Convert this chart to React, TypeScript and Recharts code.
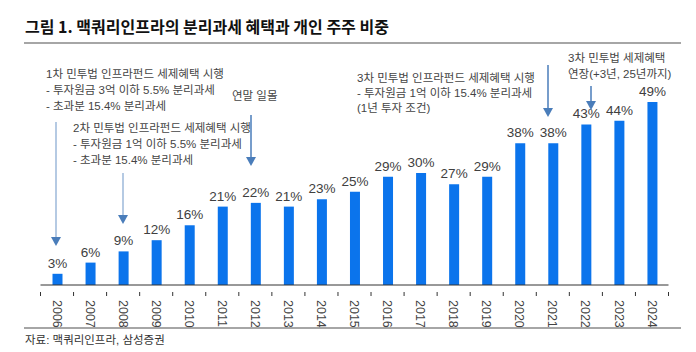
import React from 'react';
import { BarChart, Bar, XAxis, YAxis, LabelList } from 'recharts';

const years = ['2006', '2007', '2008', '2009', '2010', '2011', '2012', '2013', '2014', '2015', '2016', '2017', '2018', '2019', '2020', '2021', '2022', '2023', '2024'];
const retailShare = [3, 6, 9, 12, 16, 21, 22, 21, 23, 25, 29, 30, 27, 29, 38, 38, 43, 44, 49];

const data = years.map((y, i) => ({ year: y, share: retailShare[i] }));

const W = 696;
const H = 352;
const BAND = (668.5 - 40.5) / years.length;
const FONT = '"Liberation Sans", "Noto Sans CJK KR", sans-serif';
const ARROW_DARK = '#4A7DBA';
const ARROW_LIGHT = '#9DB8DA';

function YearTick(props: any) {
  const { x, y, payload, index } = props;
  const last = index === years.length - 1;
  return (
    <g transform={`translate(${x},${y})`}>
      <line x1={-BAND / 2} x2={-BAND / 2} y1={-1} y2={3} stroke="#333" strokeWidth={1} />
      {last && <line x1={BAND / 2} x2={BAND / 2} y1={-1} y2={3} stroke="#333" strokeWidth={1} />}
      <text transform="rotate(90)" x={7} y={0} dy="0.35em" textAnchor="start" fontSize={12.5} fill="#444" fontFamily={FONT}>
        {payload.value}
      </text>
    </g>
  );
}

function Arrow({ x, y1, y2, color, head = ARROW_DARK }: { x: number; y1: number; y2: number; color: string; head?: string }) {
  return (
    <g>
      <line x1={x} x2={x} y1={y1} y2={y2 - 8} stroke={color} strokeWidth={1.5} />
      <path d={`M${x - 5},${y2 - 9} L${x + 5},${y2 - 9} L${x},${y2} Z`} fill={head} />
    </g>
  );
}

function Note({ x, y, lines, step = 16 }: { x: number; y: number; lines: string[]; step?: number }) {
  return (
    <text x={x} y={y} fontSize={11.5} fill="#444" fontFamily={FONT}>
      {lines.map((l, i) => (
        <tspan key={i} x={x} dy={i === 0 ? 0 : step}>
          {l}
        </tspan>
      ))}
    </text>
  );
}

export default function App() {
  return (
    <div style={{ position: 'absolute', left: 0, top: 0, width: W, height: H, background: '#fff', fontFamily: FONT }}>
      <BarChart width={W} height={H} data={data} margin={{ top: 61, right: 27.5, bottom: 27, left: 40.5 }} barCategoryGap={0}>
        <YAxis hide domain={[0, 60]} />
        <XAxis
          dataKey="year"
          height={40}
          interval={0}
          axisLine={{ stroke: '#333', strokeWidth: 1 }}
          tickLine={false}
          tick={<YearTick />}
        />
        <Bar dataKey="share" fill="#0B74EC" barSize={10} isAnimationActive={false}>
          <LabelList
            dataKey="share"
            position="top"
            offset={6}
            formatter={(v: any) => `${v}%`}
            style={{ fontSize: 13.5, fill: '#404040', fontFamily: FONT }}
          />
        </Bar>
      </BarChart>
      <svg width={W} height={H} style={{ position: 'absolute', left: 0, top: 0, pointerEvents: 'none' }}>
        <text x={25} y={33} fontSize={16} fontWeight="bold" fill="#111" fontFamily={'"Noto Sans CJK KR", sans-serif'}>
          그림 1. 맥쿼리인프라의 분리과세 혜택과 개인 주주 비중
        </text>
        <line x1={24} x2={681} y1={43} y2={43} stroke="#888" strokeWidth={1.5} />
        <line x1={24} x2={681} y1={328} y2={328} stroke="#888" strokeWidth={1.5} />
        <text x={25} y={344} fontSize={11.5} fill="#333" fontFamily={FONT}>
          자료: 맥쿼리인프라, 삼성증권
        </text>

        <Note x={46} y={78} lines={['1차 민투법 인프라펀드 세제혜택 시행', '- 투자원금 3억 이하 5.5% 분리과세', '- 초과분 15.4% 분리과세']} />
        <Note x={73} y={132} lines={['2차 민투법 인프라펀드 세제혜택 시행', '- 투자원금 1억 이하 5.5% 분리과세', '- 초과분 15.4% 분리과세']} />
        <Note x={232} y={100} lines={['연말 일몰']} />
        <Note x={357} y={82} lines={['3차 민투법 인프라펀드 세제혜택 시행', '- 투자원금 1억 이하 15.4% 분리과세', '(1년 투자 조건)']} step={15} />
        <Note x={568} y={62} lines={['3차 민투법 세제혜택', '연장(+3년, 25년까지)']} />

        <Arrow x={56} y1={122} y2={246} color={ARROW_LIGHT} />
        <Arrow x={123} y1={173} y2={224} color={ARROW_LIGHT} />
        <Arrow x={251} y1={115} y2={166} color={ARROW_DARK} />
        <Arrow x={548} y1={65} y2={117} color={ARROW_DARK} />
        <Arrow x={591} y1={86} y2={110} color={ARROW_DARK} />
      </svg>
    </div>
  );
}
